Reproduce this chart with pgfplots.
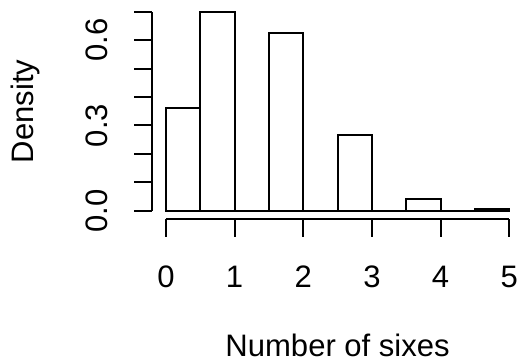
\documentclass[border=0pt]{standalone}
\usepackage{fontspec}
\setmainfont{Liberation Sans}
\usepackage{pgfplots}
\pgfplotsset{compat=1.18}
\begin{document}
\begin{tikzpicture}
\begin{axis}[
  scale only axis,
  width=185.2pt, height=107.35pt,
  xmin=-0.2, xmax=5.2,
  ymin=-0.028, ymax=0.728,
  axis x line*=bottom,
  axis y line*=left,
  x axis line style={-, line width=1pt, shorten <=6.86pt, shorten >=6.86pt},
  y axis line style={-, line width=1pt, shorten <=3.98pt, shorten >=3.98pt},
  tick align=outside,
  major tick length=9pt,
  tick style={black, line width=1pt},
  xtick={0,1,2,3,4,5},
  xticklabels={0,1,2,3,4,5},
  ytick={0,0.1,0.2,0.3,0.4,0.5,0.6,0.7},
  yticklabels={0.0,,,0.3,,,0.6,},
  minor tick num=0,
  /pgf/number format/assume math mode=true,
  every tick label/.append style={font=\fontsize{15.5}{18.6}\selectfont},
  xticklabel style={anchor=north, inner sep=0pt},
  yticklabel style={rotate=90, anchor=south, inner sep=0pt},
  xticklabel shift=14.35pt,
  yticklabel shift=12.85pt,
  xlabel={Number of sixes},
  ylabel={Density},
  xlabel style={font=\fontsize{15.5}{18.6}\selectfont, inner sep=0pt, at={(axis description cs:0.5,0)}, anchor=north, yshift=-57.3pt},
  ylabel style={font=\fontsize{15.5}{18.6}\selectfont, inner sep=0pt, at={(axis description cs:0,0.5)}, anchor=base, yshift=59.2pt},
  clip=false,
]
\addplot[ybar, bar width=0.5, bar shift=0pt, draw=black, fill=white, line width=1pt]
  coordinates {(0.25,0.36) (0.75,0.70) (1.25,0) (1.75,0.626) (2.25,0) (2.75,0.268) (3.25,0) (3.75,0.04) (4.25,0) (4.75,0.005)};
\coordinate (sw) at (rel axis cs:0,0);
\coordinate (ne) at (rel axis cs:1,1);
\end{axis}
\pgfresetboundingbox
\path ([shift={(-76pt,-72.25pt)}]sw) rectangle ([shift={(-2.5pt,1.9pt)}]ne);
\end{tikzpicture}
\end{document}
